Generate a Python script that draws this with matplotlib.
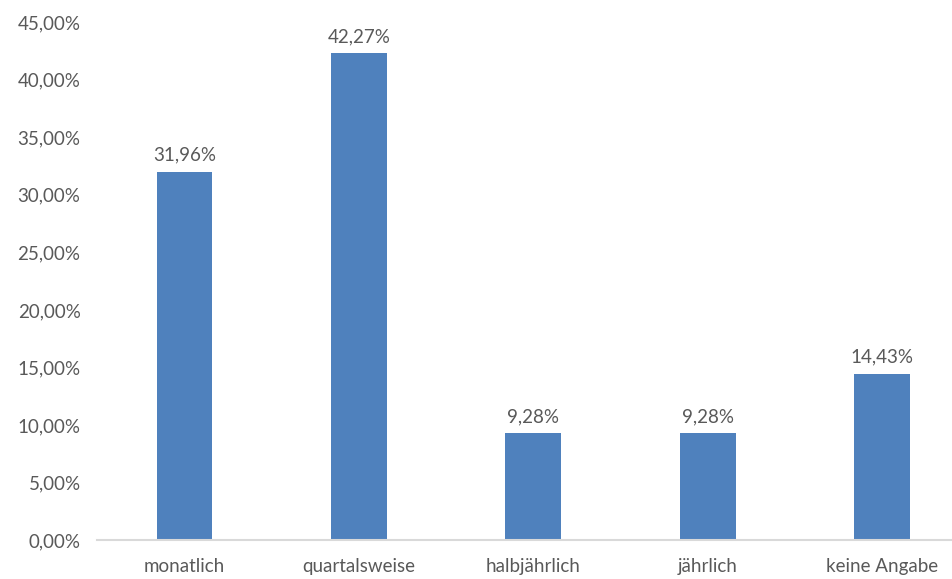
import matplotlib
matplotlib.use("Agg")
import matplotlib.pyplot as plt
from matplotlib.ticker import FuncFormatter

categories = ["monatlich", "quartalsweise", "halbjährlich", "jährlich", "keine Angabe"]
shares = [31.96, 42.27, 9.28, 9.28, 14.43]
y_ticks = [0, 5, 10, 15, 20, 25, 30, 35, 40, 45]

plt.rcParams['font.family'] = ['Lato', 'DejaVu Sans']
text_grey = "#595959"
bar_blue = "#4f81bd"

fig = plt.figure(figsize=(9.53, 5.79), dpi=100)
# the plot area runs a bit past the right edge in the original
ax = fig.add_axes([0.102, 0.067, 0.915, 0.895])

x = range(len(categories))
ax.bar(x, shares, width=0.32, color=bar_blue, zorder=2)

for xi, v in zip(x, shares):
    ax.annotate(f"{v:.2f}%".replace(".", ","), (xi, v), xytext=(0, 6),
                textcoords="offset points", ha="center", va="bottom",
                fontsize=13.5, color=text_grey)

ax.set_xlim(-0.5, len(categories) - 0.5)
ax.set_ylim(0, 45)
ax.set_yticks(y_ticks)
ax.yaxis.set_major_formatter(FuncFormatter(lambda v, p: f"{v:.2f}%".replace(".", ",")))
ax.set_xticks(list(x))
ax.set_xticklabels(categories)

for s in ["top", "right", "left"]:
    ax.spines[s].set_visible(False)
ax.spines["bottom"].set_color("#d9d9d9")
ax.spines["bottom"].set_linewidth(1.5)
ax.tick_params(axis="both", length=0, labelsize=13.5, labelcolor=text_grey)
ax.tick_params(axis="x", pad=13)
ax.tick_params(axis="y", pad=12)

fig.savefig("out.png", dpi=100)
